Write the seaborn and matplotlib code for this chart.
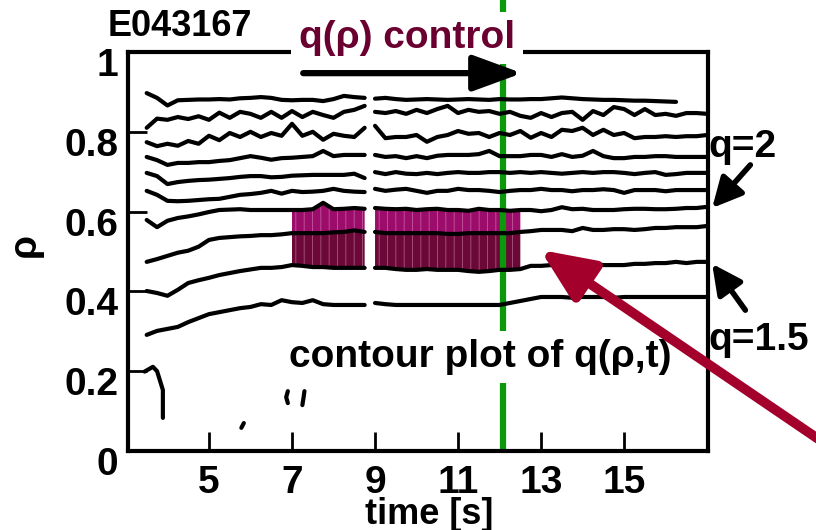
import numpy as np
import pandas as pd
import matplotlib
matplotlib.use("Agg")
import matplotlib.pyplot as plt
import matplotlib.transforms as mtransforms
import seaborn as sns

nan = float("nan")

# ---- data (time in s, rho) ----
T_A = [3.50, 3.75, 4.00, 4.25, 4.50, 4.75, 5.00, 5.25, 5.50, 5.75, 6.00,
       6.25, 6.50, 6.75, 7.00, 7.25, 7.50, 7.75, 8.00, 8.25, 8.50, 8.75]
T_B = [9.00, 9.25, 9.50, 9.75, 10.00, 10.25, 10.50, 10.75, 11.00, 11.25, 11.50,
       11.75, 12.00, 12.25, 12.50, 12.75, 13.00, 13.25, 13.50, 13.75, 14.00,
       14.25, 14.50, 14.75, 15.00, 15.25, 15.50, 15.75, 16.00, 16.25, 16.50,
       16.75, 17.00]

L1_A = [0.897, 0.885, 0.866, 0.879, 0.880, 0.881, 0.881, 0.882, 0.881, 0.884, 0.885,
        0.887, 0.885, 0.880, 0.879, 0.880, 0.880, 0.877, 0.882, 0.890, 0.887, 0.885]
L1_B = [0.883, 0.885, 0.882, 0.880, 0.881, 0.882, 0.881, 0.880, 0.881, 0.882, 0.881,
        0.880, 0.882, 0.881, 0.881, 0.882, 0.882, 0.884, 0.886, 0.884, 0.882, 0.881,
        0.880, 0.880, 0.879, 0.878, 0.878, 0.877, 0.876, 0.875, nan, nan, nan]
L2_A = [0.810, 0.833, 0.830, 0.837, 0.832, 0.839, 0.830, 0.848, 0.835, 0.850, 0.845,
        0.835, 0.850, 0.835, 0.852, 0.837, 0.850, 0.842, 0.835, 0.850, 0.855, 0.865]
L2_B = [0.850, 0.847, 0.852, 0.845, 0.855, 0.847, 0.857, 0.865, 0.847, 0.855, 0.850,
        0.852, 0.845, 0.850, 0.840, 0.835, 0.847, 0.837, 0.847, 0.850, 0.830, 0.852,
        0.842, 0.862, 0.857, 0.842, 0.857, 0.842, 0.845, 0.840, 0.847, 0.847, 0.845]
L3_A = [0.774, 0.764, 0.770, 0.765, 0.777, 0.770, 0.790, 0.779, 0.797, 0.787, 0.800,
        0.787, 0.797, 0.790, 0.820, 0.790, 0.800, 0.780, 0.795, 0.790, 0.787, 0.810]
L3_B = [0.815, 0.784, 0.787, 0.787, 0.792, 0.775, 0.787, 0.792, 0.802, 0.795, 0.797,
        0.787, 0.797, 0.792, 0.802, 0.785, 0.797, 0.787, 0.805, 0.802, 0.810, 0.792,
        0.805, 0.792, 0.797, 0.784, 0.787, 0.787, 0.789, 0.787, 0.789, 0.789, 0.792]
L4_A = [0.737, 0.729, 0.717, 0.722, 0.722, 0.724, 0.724, 0.727, 0.729, 0.734, 0.739,
        0.735, 0.730, 0.734, 0.735, 0.737, 0.739, 0.752, 0.739, 0.742, 0.742, 0.742]
L4_B = [0.742, 0.737, 0.739, 0.734, 0.739, 0.734, 0.740, 0.742, 0.742, 0.742, 0.744,
        0.752, 0.739, 0.739, 0.739, 0.742, 0.742, 0.737, 0.744, 0.737, 0.740, 0.752,
        0.739, 0.734, 0.734, 0.737, 0.737, 0.739, 0.739, 0.737, 0.737, 0.737, 0.737]
L5_A = [0.697, 0.689, 0.669, 0.674, 0.677, 0.679, 0.680, 0.682, 0.684, 0.687, 0.689,
        0.689, 0.686, 0.687, 0.690, 0.691, 0.692, 0.692, 0.692, 0.692, 0.695, 0.684]
L5_B = [0.699, 0.694, 0.699, 0.695, 0.694, 0.697, 0.694, 0.697, 0.699, 0.697, 0.697,
        0.699, 0.699, 0.697, 0.699, 0.697, 0.699, 0.697, 0.695, 0.697, 0.699, 0.697,
        0.699, 0.699, 0.697, 0.694, 0.697, 0.699, 0.692, 0.694, 0.697, 0.697, 0.697]
L6_A = [0.652, 0.642, 0.627, 0.626, 0.627, 0.629, 0.631, 0.632, 0.637, 0.642, 0.644,
        0.647, 0.652, 0.645, 0.652, 0.649, 0.650, 0.652, 0.657, 0.652, 0.650, 0.649]
L6_B = [0.657, 0.652, 0.655, 0.657, 0.652, 0.647, 0.652, 0.652, 0.657, 0.654, 0.654,
        0.652, 0.649, 0.652, 0.654, 0.654, 0.657, 0.654, 0.654, 0.651, 0.654, 0.654,
        0.656, 0.654, 0.647, 0.654, 0.654, 0.654, 0.651, 0.654, 0.654, 0.654, 0.654]
L7_A = [0.579, 0.561, 0.577, 0.584, 0.588, 0.593, 0.599, 0.604, 0.605, 0.606, 0.604,
        0.604, 0.604, 0.604, 0.604, 0.604, 0.606, 0.622, 0.606, 0.607, 0.609, 0.607]
L7_B = [0.609, 0.607, 0.606, 0.607, 0.604, 0.606, 0.607, 0.604, 0.604, 0.602, 0.607,
        0.604, 0.604, 0.602, 0.604, 0.604, 0.601, 0.604, 0.611, 0.606, 0.607, 0.604,
        0.604, 0.604, 0.606, 0.607, 0.607, 0.606, 0.606, 0.607, 0.609, 0.609, 0.612]
L8_A = [0.474, 0.481, 0.489, 0.497, 0.502, 0.512, 0.529, 0.534, 0.536, 0.538, 0.539,
        0.541, 0.541, 0.543, 0.546, 0.546, 0.546, 0.546, 0.548, 0.549, 0.553, 0.549]
L8_B = [0.549, 0.546, 0.546, 0.546, 0.546, 0.546, 0.546, 0.544, 0.544, 0.546, 0.546,
        0.546, 0.546, 0.546, 0.549, 0.551, 0.554, 0.554, 0.554, 0.551, 0.559, 0.554,
        0.554, 0.556, 0.556, 0.554, 0.556, 0.559, 0.559, 0.561, 0.561, 0.561, 0.564]
L9_A = [0.401, 0.396, 0.389, 0.404, 0.421, 0.428, 0.434, 0.441, 0.446, 0.451, 0.455,
        0.459, 0.459, 0.461, 0.466, 0.464, 0.461, 0.461, 0.459, 0.459, 0.459, 0.459]
L9_B = [0.459, 0.459, 0.456, 0.454, 0.454, 0.456, 0.454, 0.454, 0.454, 0.451, 0.449,
        0.451, 0.454, 0.454, 0.456, 0.464, 0.464, 0.466, 0.469, 0.466, 0.474, 0.469,
        0.466, 0.466, 0.466, 0.469, 0.469, 0.471, 0.471, 0.474, 0.471, 0.474, 0.474]
L10_A = [0.291, 0.301, 0.306, 0.311, 0.323, 0.333, 0.343, 0.348, 0.353, 0.358, 0.361,
         0.368, 0.366, 0.378, 0.373, 0.371, 0.378, 0.368, 0.366, 0.366, 0.366, 0.366]
L10_B = [0.371, 0.368, 0.366, 0.366, 0.366, 0.366, 0.366, 0.366, 0.366, 0.366, 0.366,
         0.366, 0.366, 0.371, 0.376, 0.381, 0.386, 0.386, 0.386, 0.384, 0.386, 0.386,
         0.386, 0.384, 0.386, 0.386, 0.386, 0.386, 0.386, 0.386, 0.386, 0.386, 0.386]

# small contour fragments near the axis
FRAG_T = [[3.45, 3.65, 3.75, 3.89, 3.89],
          [5.78, 5.84],
          [6.90, 6.86, 6.90],
          [7.30, 7.28, 7.25]]
FRAG_R = [[0.199, 0.211, 0.200, 0.153, 0.083],
          [0.058, 0.070],
          [0.150, 0.135, 0.120],
          [0.150, 0.135, 0.115]]

FILL_T0, FILL_T1 = 7.0, 12.5
CONTROL_T = 12.08

X_TICKS = [5, 7, 9, 11, 13, 15]
Y_TICKS = [0, 0.2, 0.4, 0.6, 0.8, 1]
Y_TICK_LABELS = ["0", "0.2", "0.4", "0.6", "0.8", "1"]

BRIGHT = "#9c0c6a"
DARK = "#6c0838"
STREAK = (1.0, 0.8, 0.92, 0.4)
GREEN = "#0b990b"
MAROON = "#6a0030"
RED = "#a3002c"

LINES = {
    "L1": (L1_A, L1_B), "L2": (L2_A, L2_B), "L3": (L3_A, L3_B),
    "L4": (L4_A, L4_B), "L5": (L5_A, L5_B), "L6": (L6_A, L6_B),
    "L7": (L7_A, L7_B), "L8": (L8_A, L8_B), "L9": (L9_A, L9_B),
    "L10": (L10_A, L10_B),
}

sns.set_theme(style="white")
plt.rcParams["font.family"] = ["Liberation Sans", "DejaVu Sans"]
plt.rcParams["font.weight"] = "bold"
plt.rcParams["text.color"] = "black"
plt.rcParams["axes.labelcolor"] = "black"
plt.rcParams["xtick.color"] = "black"
plt.rcParams["ytick.color"] = "black"
plt.rcParams["hatch.linewidth"] = 0.6

fig = plt.figure(figsize=(8.16, 5.30), dpi=100)
ax = fig.add_axes([128 / 816, 1 - 451 / 530, 580 / 816, 399 / 530])

rows = []
for name, (a, b) in LINES.items():
    for seg, ts, vs in (("A", T_A, a), ("B", T_B, b)):
        for t, v in zip(ts, vs):
            rows.append((name + seg, t, v))
df = pd.DataFrame(rows, columns=["unit", "t", "rho"]).dropna()

# filled contour band
for ts, top, mid, bot in ((T_A, L7_A, L8_A, L9_A), (T_B, L7_B, L8_B, L9_B)):
    t = np.array(ts)
    m = (t >= FILL_T0) & (t <= FILL_T1)
    ax.fill_between(t[m], np.array(mid)[m], np.array(top)[m], facecolor=BRIGHT,
                    edgecolor=STREAK, hatch="||", lw=0, zorder=1)
    ax.fill_between(t[m], np.array(bot)[m], np.array(mid)[m], facecolor=DARK,
                    edgecolor=STREAK, hatch="||", lw=0, zorder=1)

sns.lineplot(data=df, x="t", y="rho", units="unit", estimator=None, sort=False,
             color="black", lw=3, ax=ax, legend=False, zorder=3)
for ft, fr in zip(FRAG_T, FRAG_R):
    ax.plot(ft, fr, color="black", lw=3, zorder=3)

# control time marker
ax.plot([CONTROL_T, CONTROL_T], [0, 1.14], color=GREEN, lw=4.5, clip_on=False,
        zorder=1.5, solid_capstyle="butt")

ax.set_xlim(3.05, 17.02)
ax.set_ylim(0, 1)
ax.set_xticks(X_TICKS)
ax.set_xticklabels([str(v) for v in X_TICKS])
ax.set_yticks(Y_TICKS)
ax.set_yticklabels(Y_TICK_LABELS)
ax.tick_params(direction="in", length=14, width=2, labelsize=28, colors="black",
               bottom=True, left=True, top=False, right=False)
ax.tick_params(axis="x", pad=10)
ax.tick_params(axis="y", pad=7)
ax.grid(False)
for s in ax.spines.values():
    s.set_linewidth(3)
    s.set_color("black")
    s.set_zorder(2.5)

off = mtransforms.ScaledTranslation(0, -0.10, fig.dpi_scale_trans)
for lbl in ax.get_yticklabels():
    lbl.set_transform(lbl.get_transform() + off)

ax.set_xlabel("time [s]", fontsize=26, fontweight="bold")
ax.xaxis.set_label_coords(0.52, -0.158)
ax.xaxis.label.set_va("center")
ax.set_ylabel("ρ", fontsize=28, fontweight="bold")
ax.yaxis.set_label_coords(-0.178, 0.516)
ax.yaxis.label.set_va("center")

# annotations
ax.text(9.77, 1.035, "q(ρ) control", color=MAROON, fontsize=28, fontweight="bold",
        ha="center", va="center", zorder=6,
        bbox=dict(facecolor="white", edgecolor="none", pad=6))
ax.annotate("", xy=(12.54, 0.947), xytext=(7.27, 0.947),
            arrowprops=dict(arrowstyle="-|>,head_length=1.5,head_width=0.55",
                            lw=4.5, color="black", mutation_scale=20,
                            shrinkA=0, shrinkB=0), zorder=7)

ax.text(11.53, 0.235, "contour plot of q(ρ,t)", color="black", fontsize=28,
        fontweight="bold", ha="center", va="center", zorder=6,
        bbox=dict(facecolor="white", edgecolor="none", pad=6))

ax.text(17.84, 0.762, "q=2", fontsize=28, fontweight="bold", ha="center",
        va="center", clip_on=False)
ax.annotate("", xy=(17.12, 0.609), xytext=(18.04, 0.717), annotation_clip=False,
            arrowprops=dict(arrowstyle="-|>,head_length=0.9,head_width=0.45",
                            lw=4, color="black", mutation_scale=20,
                            shrinkA=0, shrinkB=0))
ax.text(18.23, 0.278, "q=1.5", fontsize=28, fontweight="bold", ha="center",
        va="center", clip_on=False)
ax.annotate("", xy=(17.12, 0.469), xytext=(17.92, 0.353), annotation_clip=False,
            arrowprops=dict(arrowstyle="-|>,head_length=0.9,head_width=0.45",
                            lw=4, color="black", mutation_scale=20,
                            shrinkA=0, shrinkB=0))

ax.annotate("", xy=(12.98, 0.504), xytext=(19.96, 0.01), annotation_clip=False,
            arrowprops=dict(arrowstyle="-|>,head_length=1.6,head_width=0.7",
                            lw=7, color=RED, mutation_scale=20,
                            shrinkA=0, shrinkB=0), zorder=8)

fig.text(108 / 816, 1 - 27 / 530, "E043167", fontsize=26, fontweight="bold",
         family=["Liberation Sans Narrow", "Liberation Sans"], ha="left",
         va="center", color="black")

fig.savefig("out.png", dpi=100)
